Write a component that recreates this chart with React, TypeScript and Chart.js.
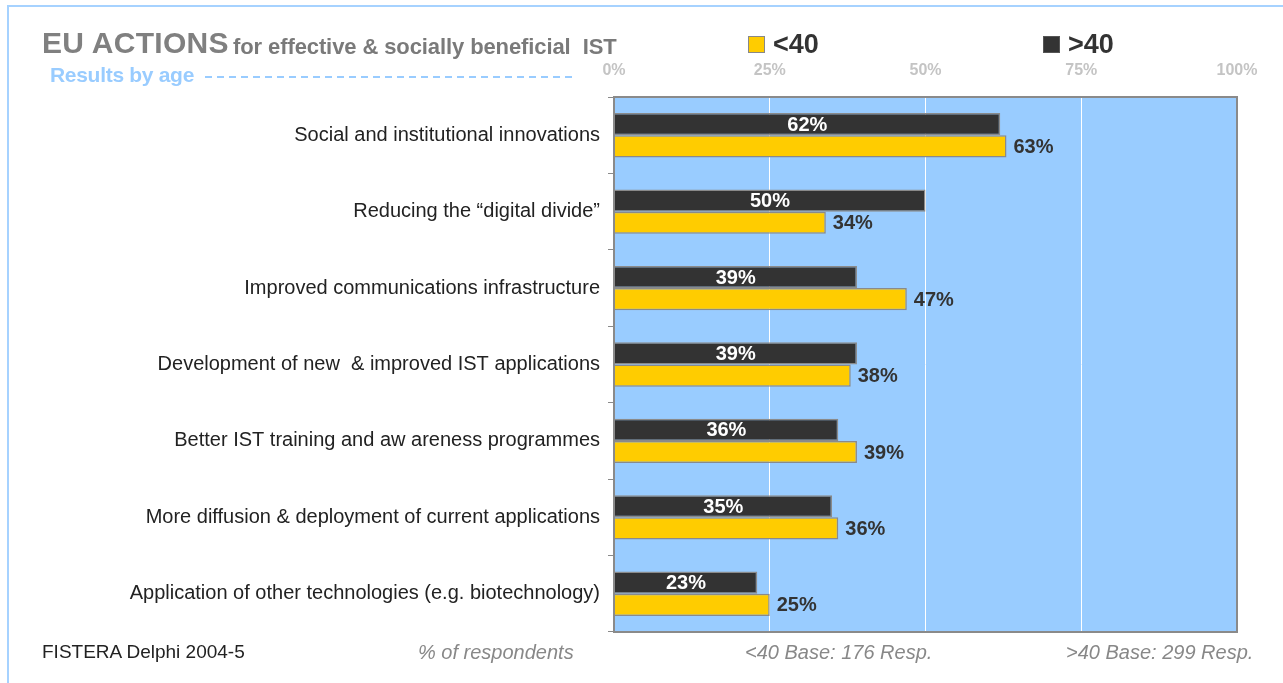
import React, { useEffect, useRef } from "react";
import { Chart, registerables } from "chart.js";
Chart.register(...registerables);

const categories = [
  "Social and institutional innovations",
  "Reducing the \u201Cdigital divide\u201D",
  "Improved communications infrastructure",
  "Development of new  & improved IST applications",
  "Better IST training and aw areness programmes",
  "More diffusion & deployment of current applications",
  "Application of other technologies (e.g. biotechnology)",
];
const over40 = [62, 50, 39, 39, 36, 35, 23];
const under40 = [63, 34, 47, 38, 39, 36, 25];
const xTicks = [0, 25, 50, 75, 100];

const FONT = "'Liberation Sans', Arial, sans-serif";

const plotPlugin = {
  id: "plotDeco",
  beforeDraw(chart: any) {
    const { ctx, chartArea: a } = chart;
    ctx.save();
    ctx.fillStyle = "#99ccff";
    ctx.fillRect(a.left, a.top, a.right - a.left, a.bottom - a.top);
    ctx.restore();
  },
  afterDatasetsDraw(chart: any) {
    const { ctx, chartArea: a } = chart;
    ctx.save();
    ctx.strokeStyle = "#8a8a8a";
    ctx.lineWidth = 2;
    ctx.strokeRect(a.left, a.top, a.right - a.left, a.bottom - a.top);
    ctx.font = `bold 20px ${FONT}`;
    ctx.textBaseline = "middle";
    chart.data.datasets.forEach((ds: any, di: number) => {
      const meta = chart.getDatasetMeta(di);
      meta.data.forEach((bar: any, i: number) => {
        const v = ds.data[i];
        if (di === 0) {
          ctx.fillStyle = "#ffffff";
          ctx.textAlign = "center";
          ctx.fillText(v + "%", (bar.base + bar.x) / 2, bar.y + 1);
        } else {
          ctx.fillStyle = "#333333";
          ctx.textAlign = "left";
          ctx.fillText(v + "%", bar.x + 7, bar.y + 1);
        }
      });
    });
    ctx.restore();
  },
};

function ChartView() {
  const ref = useRef<HTMLCanvasElement>(null);
  useEffect(() => {
    if (!ref.current) return;
    const chart = new Chart(ref.current, {
      type: "bar",
      data: {
        labels: categories,
        datasets: [
          {
            label: ">40",
            data: over40,
            backgroundColor: "#333333",
            borderColor: "#8a8a8a",
            borderWidth: 1.5,
            categoryPercentage: 0.58,
            barPercentage: 1,
          },
          {
            label: "<40",
            data: under40,
            backgroundColor: "#ffcc00",
            borderColor: "#8a8a8a",
            borderWidth: 1.5,
            categoryPercentage: 0.58,
            barPercentage: 1,
          },
        ],
      },
      options: {
        indexAxis: "y",
        animation: false,
        responsive: false,
        maintainAspectRatio: false,
        layout: { padding: { left: 0, top: 0, right: 46, bottom: 51 } },
        plugins: { legend: { display: false }, tooltip: { enabled: false } },
        scales: {
          x: {
            position: "top",
            min: 0,
            max: 100,
            afterBuildTicks: (s: any) => {
              s.ticks = xTicks.map((v) => ({ value: v }));
            },
            afterFit: (s: any) => {
              s.height = 97;
            },
            ticks: {
              callback: (v: any) => v + "%",
              color: "#c4c4c4",
              font: { family: FONT, size: 16, weight: "bold" },
              padding: 17,
              maxRotation: 0,
            },
            grid: { color: "#ffffff", lineWidth: 1, drawTicks: false },
            border: { display: false },
          },
          y: {
            afterFit: (s: any) => {
              s.width = 614;
            },
            ticks: {
              color: "#222222",
              font: { family: FONT, size: 20 },
              padding: 8,
            },
            grid: {
              drawOnChartArea: false,
              color: "#8a8a8a",
              tickLength: 6,
              offset: true,
            },
            border: { display: false },
          },
        },
      },
      plugins: [plotPlugin],
    } as any);
    return () => chart.destroy();
  }, []);
  return (
    <canvas
      ref={ref}
      width={1283}
      height={683}
      style={{ position: "absolute", left: 0, top: 0, width: 1283, height: 683 }}
    />
  );
}

export default function App() {
  const txt: React.CSSProperties = { position: "absolute", fontFamily: FONT, whiteSpace: "nowrap" };
  return (
    <div
      style={{
        position: "fixed",
        left: 0,
        top: 0,
        width: 1283,
        height: 683,
        background: "#ffffff",
        overflow: "hidden",
      }}
    >
      <div
        style={{
          position: "absolute",
          left: 7,
          top: 5,
          width: 1290,
          height: 700,
          borderTop: "2px solid #a6d2ff",
          borderLeft: "2px solid #a6d2ff",
        }}
      />
      <ChartView />
      <div style={{ ...txt, left: 42, top: 26, fontSize: 30, fontWeight: "bold", color: "#808080", letterSpacing: 0.3 }}>
        EU ACTIONS
      </div>
      <div style={{ ...txt, left: 233, top: 34, fontSize: 22, fontWeight: "bold", color: "#7a7a7a", letterSpacing: -0.1 }}>
        for effective &amp; socially beneficial&nbsp; IST
      </div>
      <div style={{ ...txt, left: 50, top: 63, fontSize: 21, fontWeight: "bold", color: "#99ccff", letterSpacing: -0.3 }}>
        Results by age
      </div>
      <div
        style={{
          position: "absolute",
          left: 205,
          top: 76,
          width: 368,
          height: 2,
          background: "repeating-linear-gradient(90deg, #99ccff 0 7px, transparent 7px 12px)",
        }}
      />
      <div
        style={{
          position: "absolute",
          left: 748,
          top: 36,
          width: 15,
          height: 15,
          background: "#ffcc00",
          border: "1px solid #888",
        }}
      />
      <div style={{ ...txt, left: 773, top: 29, fontSize: 27, fontWeight: "bold", color: "#333" }}>&lt;40</div>
      <div
        style={{
          position: "absolute",
          left: 1043,
          top: 36,
          width: 15,
          height: 15,
          background: "#333333",
          border: "1px solid #555",
        }}
      />
      <div style={{ ...txt, left: 1068, top: 29, fontSize: 27, fontWeight: "bold", color: "#333" }}>&gt;40</div>
      <div style={{ ...txt, left: 42, top: 641, fontSize: 19, color: "#222" }}>FISTERA Delphi 2004-5</div>
      <div style={{ ...txt, left: 418, top: 641, fontSize: 20, fontStyle: "italic", color: "#888" }}>% of respondents</div>
      <div style={{ ...txt, left: 745, top: 641, fontSize: 20, fontStyle: "italic", color: "#888" }}>&lt;40 Base: 176 Resp.</div>
      <div style={{ ...txt, left: 1066, top: 641, fontSize: 20, fontStyle: "italic", color: "#888" }}>&gt;40 Base: 299 Resp.</div>
    </div>
  );
}
